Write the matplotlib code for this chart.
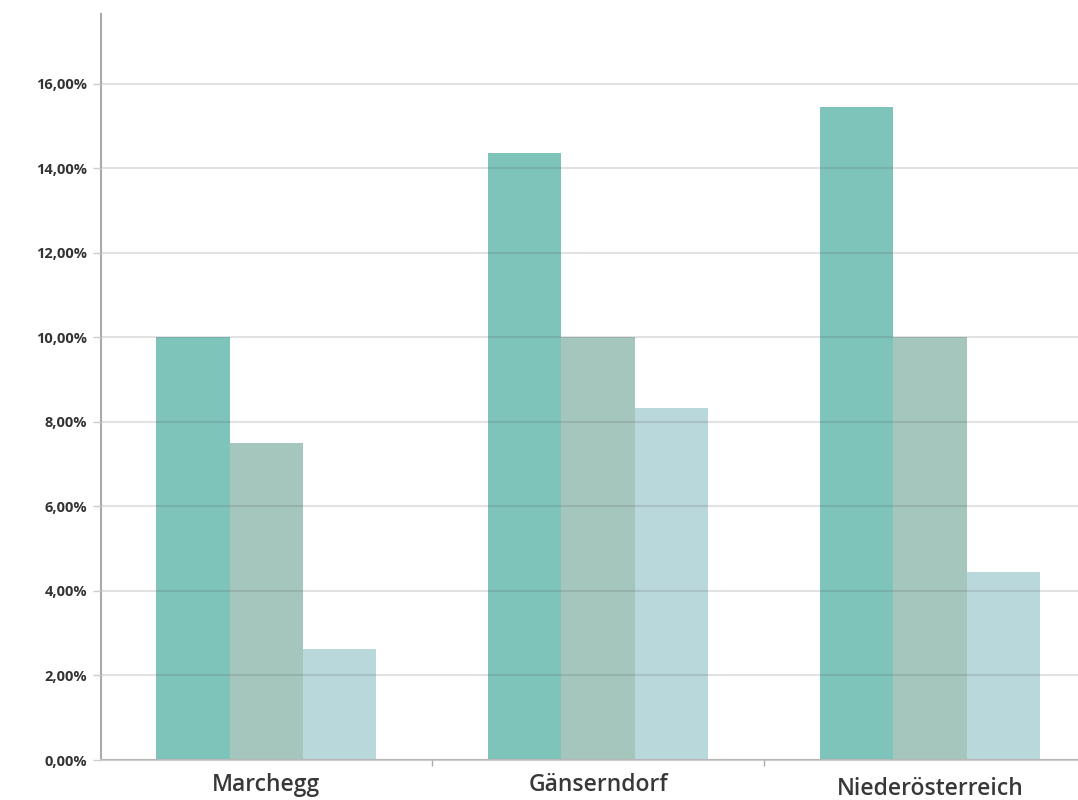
import numpy as np
import matplotlib.pyplot as plt
from matplotlib.ticker import FuncFormatter

# Anteile je Region (in Prozent)
regionen = ["Marchegg", "Gänserndorf", "Niederösterreich"]
serie_a = [10.0, 14.35, 15.45]
serie_b = [7.5, 10.0, 10.0]
serie_c = [2.62, 8.32, 4.45]

farben = ["#7fc4bb", "#a4c6bd", "#b9d8dc"]
breite = 0.221

fig = plt.figure(figsize=(10.78, 8.0), dpi=100)
ax = fig.add_axes([0.094, 0.05, 0.906, 0.9325])

x = np.arange(len(regionen))
for i, (werte, farbe) in enumerate(zip([serie_a, serie_b, serie_c], farben)):
    ax.bar(x + (i - 1) * breite, werte, width=breite, color=farbe, zorder=1)

ax.set_ylim(0, 17.65)
ax.set_xlim(-0.497, 2.446)
ax.set_yticks(np.arange(0, 17, 2))
ax.yaxis.set_major_formatter(FuncFormatter(lambda v, p: f"{v:.2f}%".replace(".", ",")))
ax.grid(axis="y", color="#555555", alpha=0.17, linewidth=1.5, zorder=2)
ax.set_axisbelow(False)

# Kategorie-Trennstriche zwischen den Gruppen
ax.set_xticks([0.5, 1.5])
ax.set_xticklabels([])
ax.tick_params(axis="x", length=4, color="#aaaaaa", width=1)
ax.tick_params(axis="y", length=6, color="#cccccc", width=1, pad=4,
               labelsize=10.5, labelcolor="#333333")
for lab in ax.get_yticklabels():
    lab.set_fontweight("bold")
    lab.set_family("Open Sans")

# Regionsnamen unter den Gruppen (der letzte sitzt etwas tiefer)
grundlinie = [-0.74, -0.74, -0.83]
for xi, name, dy in zip(x, regionen, grundlinie):
    ax.text(xi, dy, name, ha="center", va="baseline", fontsize=16.5,
            color="#383838", family="Open Sans", fontweight="semibold")

for s in ["top", "right"]:
    ax.spines[s].set_visible(False)
ax.spines["left"].set_color("#aaaaaa")
ax.spines["left"].set_linewidth(1.5)
ax.spines["bottom"].set_color("#cccccc")
ax.spines["bottom"].set_linewidth(1.5)

fig.savefig("out.png", dpi=100)
